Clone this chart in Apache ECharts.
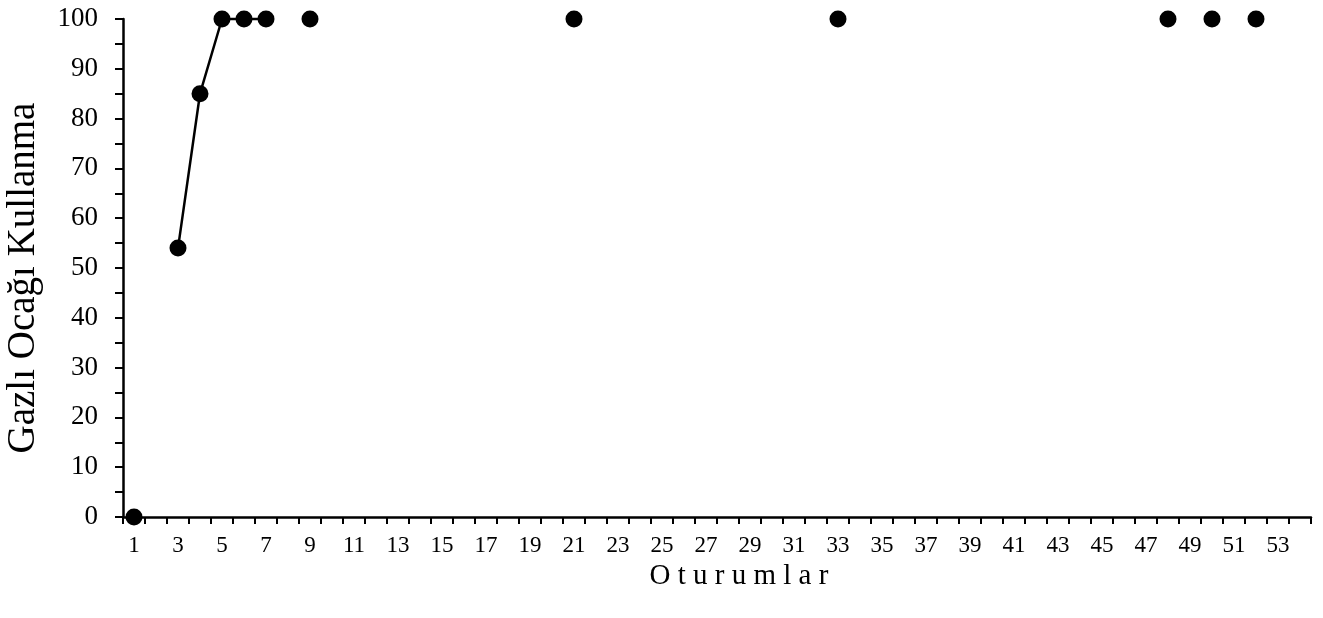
<!DOCTYPE html>
<html>
<head>
<meta charset="utf-8">
<script src="https://cdn.jsdelivr.net/npm/echarts@6/dist/echarts.min.js"></script>
<style>
  html, body { margin: 0; padding: 0; background: #fff; }
  #grafik { width: 1323px; height: 618px; }
</style>
</head>
<body>
<div id="grafik"></div>
<script>
// oturumlar (x ekseni kategorileri)
const oturumlar = [1, 2, 3, 4, 5, 6, 7, 8, 9, 10, 11, 12, 13, 14, 15, 16, 17, 18,
    19, 20, 21, 22, 23, 24, 25, 26, 27, 28, 29, 30, 31, 32, 33, 34, 35, 36,
    37, 38, 39, 40, 41, 42, 43, 44, 45, 46, 47, 48, 49, 50, 51, 52, 53, 54];

// veri olan oturumlar ve değerleri
const olcumOturumlari = [1, 3, 4, 5, 6, 7, 9, 21, 33, 48, 50, 52];
const olcumDegerleri = [0, 54, 85, 100, 100, 100, 100, 100, 100, 100, 100, 100];

const yEtiketleri = [0, 10, 20, 30, 40, 50, 60, 70, 80, 90, 100];

// ölçüm olmayan oturumlar null -> çizgi kopar
const seriVerisi = oturumlar.map(o => {
    const i = olcumOturumlari.indexOf(o);
    return i >= 0 ? olcumDegerleri[i] : null;
});

const grafik = echarts.init(document.getElementById('grafik'));
const yazi = '"Liberation Serif", "DejaVu Serif", serif';

grafik.setOption({
    animation: false,
    grid: { left: 123, right: 12, top: 19, bottom: 101, containLabel: false, outerBoundsMode: 'none' },
    xAxis: {
        type: 'category',
        data: oturumlar,
        boundaryGap: true,
        name: 'O t u r u m l a r',
        nameLocation: 'middle',
        nameGap: 42,
        nameTextStyle: { fontFamily: yazi, fontSize: 29, color: '#000', padding: [0, 0, 0, 44] },
        axisLine: { lineStyle: { color: '#000', width: 2.5 } },
        axisTick: { show: true, interval: 0, length: 7, lineStyle: { color: '#000', width: 2 } },
        axisLabel: { interval: 1, margin: 17, fontFamily: yazi, fontSize: 23, color: '#000' },
        splitLine: { show: false }
    },
    yAxis: {
        type: 'value',
        min: yEtiketleri[0],
        max: yEtiketleri[yEtiketleri.length - 1],
        interval: 10,
        name: 'Gazlı Ocağı Kullanma',
        nameLocation: 'middle',
        nameGap: 80,
        nameTextStyle: { fontFamily: yazi, fontSize: 39, color: '#000', padding: [0, 20, 0, 0] },
        axisLine: { show: true, lineStyle: { color: '#000', width: 2.5 } },
        axisTick: { show: true, length: 8, lineStyle: { color: '#000', width: 2 } },
        minorTick: { show: true, splitNumber: 2, length: 8, lineStyle: { color: '#000', width: 2 } },
        axisLabel: { margin: 25, fontFamily: yazi, fontSize: 27, color: '#000' },
        splitLine: { show: false }
    },
    series: [{
        type: 'line',
        data: seriVerisi,
        connectNulls: false,
        clip: false,
        symbol: 'circle',
        symbolSize: 17,
        showAllSymbol: true,
        lineStyle: { color: '#000', width: 2.5 },
        itemStyle: { color: '#000' }
    }]
});
</script>
</body>
</html>
